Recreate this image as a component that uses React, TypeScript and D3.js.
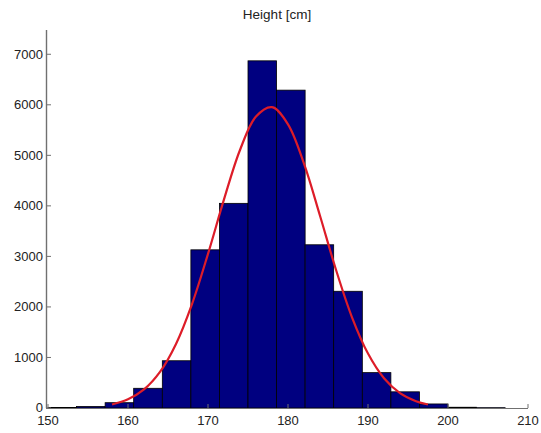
import React from "react";
import * as d3 from "d3";

const binEdges = [150, 153.57, 157.14, 160.71, 164.29, 167.86, 171.43, 175, 178.57, 182.14, 185.71, 189.29, 192.86, 196.43, 200, 203.57, 207.14];
const binCounts = [10, 30, 105, 390, 935, 3130, 4050, 6870, 6290, 3230, 2310, 700, 320, 80, 15, 6];

const fitX = [158, 160, 162, 164, 166, 168, 170, 172, 174, 176, 178, 180, 182, 184, 186, 188, 190, 192, 194, 196, 197.5];
const fitY = [70, 172, 367, 714, 1268, 2056, 3050, 4128, 5106, 5768, 5954, 5614, 4835, 3805, 2735, 1795, 1077, 590, 296, 135, 70];

const xTicks = [150, 160, 170, 180, 190, 200, 210];
const yTicks = [0, 1000, 2000, 3000, 4000, 5000, 6000, 7000];
const title = "Height [cm]";

export default function App() {
  const W = 541, H = 433;
  const x = d3.scaleLinear().domain([150, 210]).range([48, 528]);
  const y = d3.scaleLinear().domain([0, 7500]).range([408, 29]);
  const line = d3
    .line<number>()
    .x((_, i) => x(fitX[i]))
    .y((d) => y(d))
    .curve(d3.curveCatmullRom);
  const font = "'Liberation Sans', Arial, sans-serif";
  const axisColor = "#707070";
  const textColor = "#222";
  return (
    <svg width={W} height={H} style={{ position: "absolute", left: 0, top: 0, background: "#fff" }}>
      <rect x={0} y={0} width={W} height={H} fill="#fff" />
      {binCounts.map((c, i) => (
        <rect
          key={i}
          x={x(binEdges[i])}
          y={y(c)}
          width={x(binEdges[i + 1]) - x(binEdges[i])}
          height={y(0) - y(c)}
          fill="#000080"
          stroke="#000"
          strokeWidth={0.8}
        />
      ))}
      <path d={line(fitY) || ""} fill="none" stroke="#dd1c28" strokeWidth={2.2} />
      <line x1={46.5} x2={46.5} y1={30} y2={408} stroke={axisColor} strokeWidth={1.4} />
      <line x1={46} x2={528} y1={408.5} y2={408.5} stroke={axisColor} strokeWidth={1.2} />
      {yTicks.map((t) => (
        <g key={t}>
          <line x1={47} x2={51} y1={y(t)} y2={y(t)} stroke={axisColor} strokeWidth={1} />
          <text x={43} y={t === 0 ? y(t) - 1 : y(t)} dy="0.35em" textAnchor="end" fontFamily={font} fontSize={13} fill={textColor}>
            {t}
          </text>
        </g>
      ))}
      {xTicks.map((t) => (
        <g key={t}>
          <line x1={x(t)} x2={x(t)} y1={408} y2={404} stroke={axisColor} strokeWidth={1} />
          <text x={x(t)} y={425} textAnchor="middle" fontFamily={font} fontSize={13} fill={textColor}>
            {t}
          </text>
        </g>
      ))}
      <text x={277} y={19} textAnchor="middle" fontFamily={font} fontSize={13.5} fill={textColor}>
        {title}
      </text>
    </svg>
  );
}
